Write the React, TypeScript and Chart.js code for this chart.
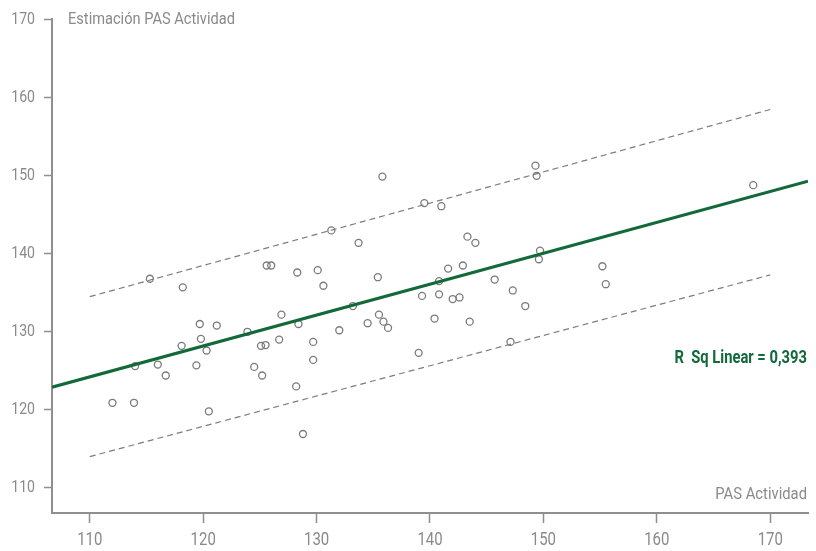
import { useEffect, useRef } from "react";
import { Chart, registerables } from "chart.js";

Chart.register(...registerables);

// PAS measured during activity (x) vs. estimated PAS (y), one entry per subject
const PAS_ACTIVIDAD = [
  112.0, 113.9, 120.5, 115.3, 118.2, 114.0, 116.0, 116.7, 118.1, 119.7, 119.8,
  120.3, 119.4, 121.2, 123.9, 124.5, 125.1, 125.2, 125.5, 125.6, 126.0, 126.7,
  126.9, 128.3, 128.4, 128.2, 128.8, 129.7, 129.7, 130.1, 130.6, 131.3, 132.0,
  133.2, 133.7, 134.5, 135.5, 135.4, 135.8, 135.9, 136.3, 139.0, 139.3, 139.5,
  140.4, 140.8, 141.0, 140.8, 141.6, 142.0, 142.6, 142.9, 143.3, 143.5, 144.0,
  145.7, 147.1, 147.3, 148.4, 149.3, 149.4, 149.7, 149.6, 155.2, 155.5, 168.5,
];
const ESTIMACION = [
  120.8, 120.8, 119.7, 136.7, 135.6, 125.5, 125.7, 124.3, 128.1, 130.9, 129.0,
  127.5, 125.6, 130.7, 129.9, 125.4, 128.1, 124.3, 128.2, 138.4, 138.4, 128.9,
  132.1, 137.5, 130.9, 122.9, 116.8, 128.6, 126.3, 137.8, 135.8, 142.9, 130.1,
  133.2, 141.3, 131.0, 132.1, 136.9, 149.8, 131.2, 130.4, 127.2, 134.5, 146.4,
  131.6, 136.4, 146.0, 134.7, 138.0, 134.1, 134.3, 138.4, 142.1, 131.2, 141.3,
  136.6, 128.6, 135.2, 133.2, 151.2, 149.9, 140.3, 139.2, 138.3, 136.0, 148.7,
];

// Linear fit across the full x range
const FIT_X = [106.67, 173.33];
const FIT_Y = [122.8, 149.2];

// Individual prediction interval limits
const BAND_X = [110, 170];
const BAND_UPPER = [134.4, 158.4];
const BAND_LOWER = [113.9, 137.2];

const AXIS_TICKS = [110, 120, 130, 140, 150, 160, 170];
const X_MIN = 106.67;
const X_MAX = 173.33;
const Y_MIN = 106.67;
const Y_MAX = 170;

const Y_TITLE = "Estimación PAS Actividad";
const X_TITLE = "PAS Actividad";
const R2_LABEL = "R  Sq Linear = 0,393";

const FONT = '"Roboto", "Noto Sans", sans-serif';
const GREY = "#8a8a8a";
const AXIS_GREY = "#8f8f8f";
const GREEN = "#12693a";

// Narrow, DIN-like lettering: draw with a horizontal squeeze
function condensedText(
  ctx: CanvasRenderingContext2D,
  text: string,
  x: number,
  y: number,
  align: CanvasTextAlign,
  squeeze: number
) {
  ctx.save();
  ctx.translate(x, y);
  ctx.scale(squeeze, 1);
  ctx.textAlign = align;
  ctx.fillText(text, 0, 0);
  ctx.restore();
}

const labelsPlugin = {
  id: "panelLabels",
  afterDraw(chart: any) {
    const { ctx, chartArea } = chart;
    const xScale = chart.scales.x;
    const yScale = chart.scales.y;
    ctx.save();
    ctx.textBaseline = "middle";
    ctx.fillStyle = GREY;

    // tick labels
    ctx.font = `17px ${FONT}`;
    AXIS_TICKS.forEach((v) => {
      condensedText(ctx, String(v), chartArea.left - 17, yScale.getPixelForValue(v) + 0.5, "right", 0.83);
    });
    ctx.font = `18px ${FONT}`;
    AXIS_TICKS.forEach((v) => {
      condensedText(ctx, String(v), xScale.getPixelForValue(v), chartArea.bottom + 27, "center", 0.83);
    });

    // axis titles
    ctx.font = `17px ${FONT}`;
    condensedText(ctx, Y_TITLE, chartArea.left + 16, yScale.getPixelForValue(Y_MAX) + 0.5, "left", 0.86);
    condensedText(ctx, X_TITLE, chartArea.right - 1, chartArea.bottom - 18, "right", 0.87);

    // fit statistic
    ctx.fillStyle = GREEN;
    ctx.font = `bold 18px ${FONT}`;
    condensedText(ctx, R2_LABEL, chartArea.right - 1, yScale.getPixelForValue(126.5), "right", 0.82);
    ctx.restore();
  },
};

const fixedTicks = (scale: any) => {
  scale.ticks = AXIS_TICKS.map((v) => ({ value: v }));
};

export default function App() {
  const canvasRef = useRef<HTMLCanvasElement | null>(null);

  useEffect(() => {
    const canvas = canvasRef.current;
    if (!canvas) return;

    const points = PAS_ACTIVIDAD.map((x, i) => ({ x, y: ESTIMACION[i] }));
    const fit = FIT_X.map((x, i) => ({ x, y: FIT_Y[i] }));
    const upper = BAND_X.map((x, i) => ({ x, y: BAND_UPPER[i] }));
    const lower = BAND_X.map((x, i) => ({ x, y: BAND_LOWER[i] }));

    const hiddenTicks = { color: "rgba(0,0,0,0)", autoSkip: false, maxRotation: 0, font: { size: 17 } };

    const chart = new Chart(canvas, {
      type: "scatter",
      data: {
        datasets: [
          {
            type: "line",
            data: fit,
            borderColor: GREEN,
            borderWidth: 3,
            pointRadius: 0,
            fill: false,
          },
          {
            type: "line",
            data: upper,
            borderColor: "#7d7d7d",
            borderWidth: 1.2,
            borderDash: [6, 4],
            pointRadius: 0,
            fill: false,
          },
          {
            type: "line",
            data: lower,
            borderColor: "#7d7d7d",
            borderWidth: 1.2,
            borderDash: [6, 4],
            pointRadius: 0,
            fill: false,
          },
          {
            data: points,
            backgroundColor: "rgba(0,0,0,0)",
            borderColor: "#7a7a7a",
            borderWidth: 1.3,
            pointRadius: 3.5,
            pointStyle: "circle",
          },
        ],
      },
      options: {
        animation: false,
        responsive: false,
        devicePixelRatio: 1,
        events: [],
        layout: { padding: { top: 19, right: 8, left: 0, bottom: 0 } },
        plugins: {
          legend: { display: false },
          tooltip: { enabled: false },
        },
        scales: {
          x: {
            type: "linear",
            min: X_MIN,
            max: X_MAX,
            afterBuildTicks: fixedTicks,
            afterFit: (s: any) => {
              s.height = 38;
            },
            grid: {
              drawOnChartArea: false,
              drawTicks: true,
              tickLength: 10,
              tickWidth: 1.5,
              tickColor: AXIS_GREY,
            },
            border: { display: true, color: AXIS_GREY, width: 2 },
            ticks: hiddenTicks,
          },
          y: {
            type: "linear",
            min: Y_MIN,
            max: Y_MAX,
            afterBuildTicks: fixedTicks,
            afterFit: (s: any) => {
              s.width = 52;
            },
            grid: {
              drawOnChartArea: false,
              drawTicks: true,
              tickLength: 8,
              tickWidth: 1.5,
              tickColor: AXIS_GREY,
            },
            border: { display: true, color: AXIS_GREY, width: 2 },
            ticks: hiddenTicks,
          },
        },
      },
      plugins: [labelsPlugin],
    });

    return () => chart.destroy();
  }, []);

  return (
    <div style={{ position: "fixed", left: 0, top: 0, width: 816, height: 551, background: "#fff" }}>
      <canvas ref={canvasRef} width={816} height={551} style={{ display: "block" }} />
    </div>
  );
}
